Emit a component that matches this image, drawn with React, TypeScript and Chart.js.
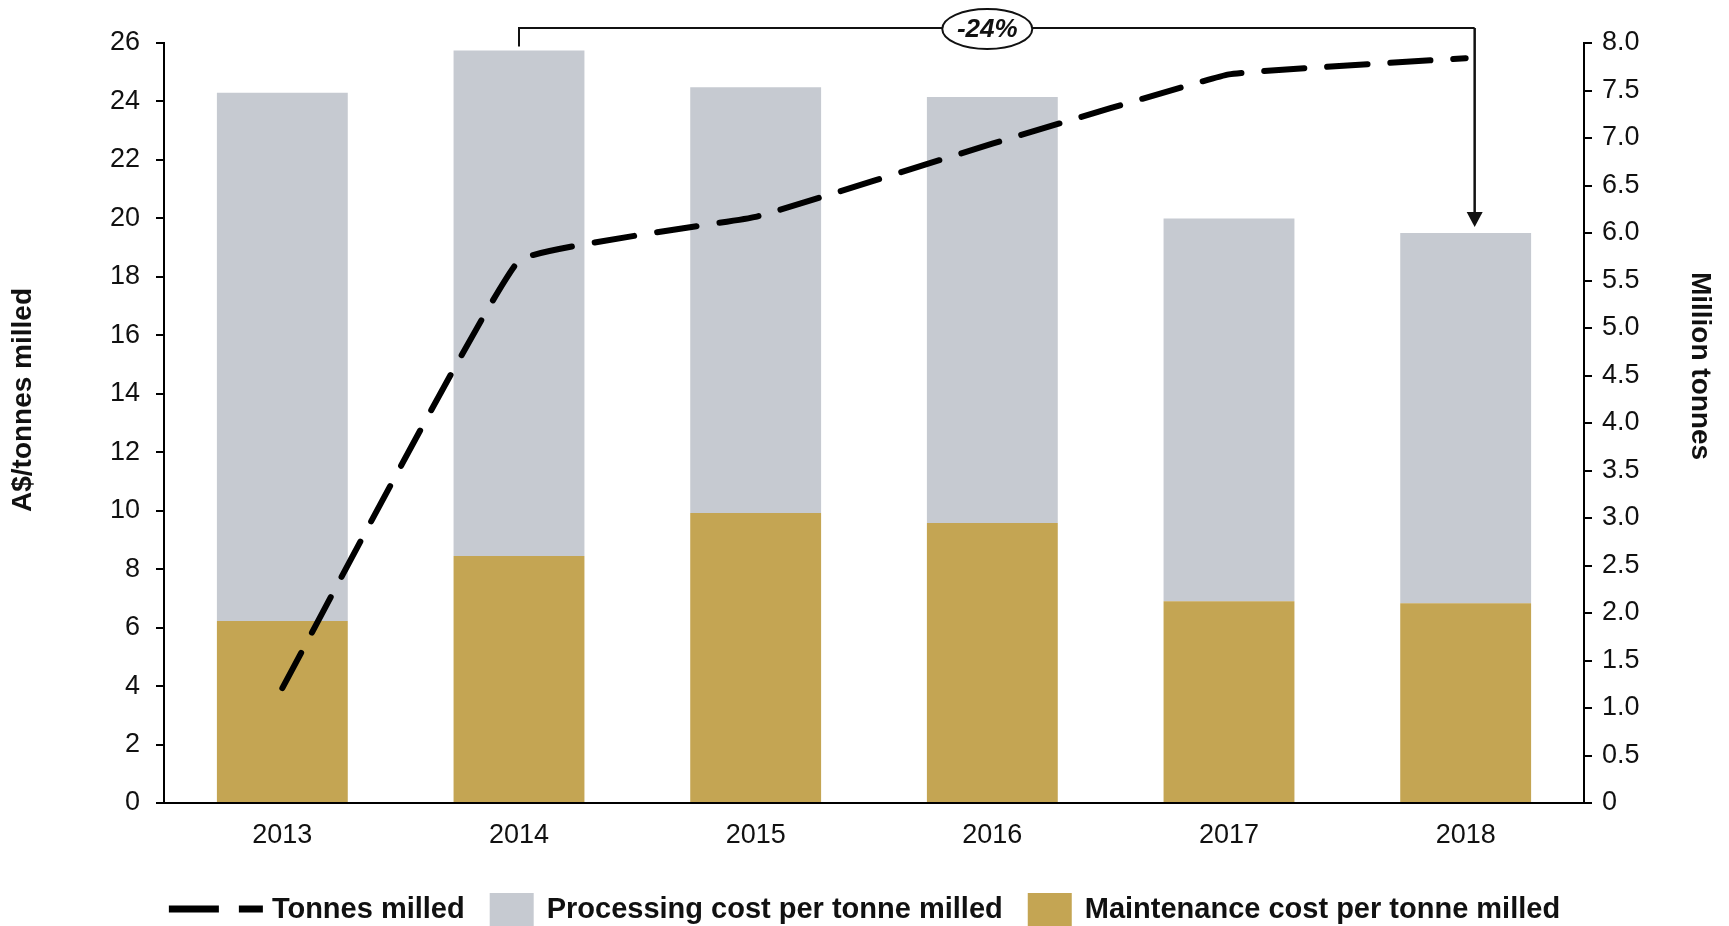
import React, { useEffect, useRef } from "react";
import { Chart, registerables } from "chart.js";

Chart.register(...registerables);

// Years on the category axis
const YEARS = ["2013", "2014", "2015", "2016", "2017", "2018"];
// A$ per tonne milled (stacked bars)
const MAINTENANCE = [6.23, 8.45, 9.92, 9.58, 6.9, 6.83];
const PROCESSING = [18.07, 17.29, 14.57, 14.57, 13.1, 12.67];
// Million tonnes milled (right axis)
const TONNES = [1.21, 5.71, 6.17, 6.94, 7.67, 7.84];
// Change in total unit cost between the bracketed years
const CHANGE_FROM = 1;
const CHANGE_TO = 5;
const CHANGE_LABEL = "-24%";

const LEFT_TITLE = "A$/tonnes milled";
const RIGHT_TITLE = "Million tonnes";

const GREY = "#C6CAD1";
const GOLD = "#C4A553";
const INK = "#111111";
const FONT = "'Liberation Sans', Arial, Helvetica, sans-serif";

const overlayPlugin = {
  id: "overlay",
  afterDraw(chart: any) {
    const ctx = chart.ctx as CanvasRenderingContext2D;
    const xs = chart.scales.x;
    const ys = chart.scales.y;
    const area = chart.chartArea;
    const total = (i: number) => MAINTENANCE[i] + PROCESSING[i];

    // Bracket with arrow showing the change in unit cost
    const x0 = xs.getPixelForValue(CHANGE_FROM);
    const x1 = xs.getPixelForValue(CHANGE_TO) + 9;
    const top0 = ys.getPixelForValue(total(CHANGE_FROM)) - 4;
    const tip = ys.getPixelForValue(total(CHANGE_TO)) - 6;
    const yb = area.top - 15;
    ctx.save();
    ctx.strokeStyle = INK;
    ctx.fillStyle = INK;
    ctx.lineWidth = 2;
    ctx.beginPath();
    ctx.moveTo(x0, top0);
    ctx.lineTo(x0, yb);
    ctx.lineTo(x1, yb);
    ctx.stroke();
    ctx.lineWidth = 2.5;
    ctx.beginPath();
    ctx.moveTo(x1, yb);
    ctx.lineTo(x1, tip - 14);
    ctx.stroke();
    ctx.beginPath();
    ctx.moveTo(x1 - 8, tip - 15);
    ctx.lineTo(x1 + 8, tip - 15);
    ctx.lineTo(x1, tip);
    ctx.closePath();
    ctx.fill();

    const cx = x0 + 0.49 * (x1 - x0);
    const cy = yb + 1;
    ctx.beginPath();
    ctx.ellipse(cx, cy, 45, 20, 0, 0, Math.PI * 2);
    ctx.fillStyle = "#ffffff";
    ctx.fill();
    ctx.lineWidth = 2;
    ctx.stroke();
    ctx.fillStyle = INK;
    ctx.font = `italic bold 26px ${FONT}`;
    ctx.textAlign = "center";
    ctx.textBaseline = "middle";
    ctx.fillText(CHANGE_LABEL, cx, cy + 1);

    // Axis titles
    ctx.font = `bold 28px ${FONT}`;
    ctx.save();
    ctx.translate(23, 400);
    ctx.rotate(-Math.PI / 2);
    ctx.fillText(LEFT_TITLE, 0, 0);
    ctx.restore();
    ctx.save();
    ctx.translate(1700, 366);
    ctx.rotate(Math.PI / 2);
    ctx.fillText(RIGHT_TITLE, 0, 0);
    ctx.restore();

    // Legend
    const ds = chart.data.datasets;
    const lineDs = ds.find((d: any) => d.type === "line");
    const procDs = ds.find((d: any) => d.label === "Processing cost per tonne milled");
    const mainDs = ds.find((d: any) => d.label === "Maintenance cost per tonne milled");
    const items = [
      { kind: "line", label: lineDs.label, color: lineDs.borderColor },
      { kind: "box", label: procDs.label, color: procDs.backgroundColor },
      { kind: "box", label: mainDs.label, color: mainDs.backgroundColor },
    ];
    ctx.font = `bold 29px ${FONT}`;
    ctx.textAlign = "left";
    const sampleW = (k: string) => (k === "line" ? 94 : 44);
    const sampleGap = (k: string) => (k === "line" ? 9 : 13);
    const itemGap = 25;
    let totalW = 0;
    items.forEach((it, i) => {
      totalW += sampleW(it.kind) + sampleGap(it.kind) + ctx.measureText(it.label).width;
      if (i < items.length - 1) totalW += itemGap;
    });
    let lx = (chart.width - totalW) / 2;
    const ly = 909;
    items.forEach((it) => {
      if (it.kind === "line") {
        ctx.save();
        ctx.strokeStyle = it.color;
        ctx.lineWidth = 7;
        ctx.lineCap = "butt";
        ctx.setLineDash([50, 20]);
        ctx.beginPath();
        ctx.moveTo(lx, ly);
        ctx.lineTo(lx + 94, ly);
        ctx.stroke();
        ctx.restore();
      } else {
        ctx.fillStyle = it.color;
        ctx.fillRect(lx, ly - 16, 44, 33);
      }
      lx += sampleW(it.kind) + sampleGap(it.kind);
      ctx.fillStyle = INK;
      ctx.fillText(it.label, lx, ly + 1);
      lx += ctx.measureText(it.label).width + itemGap;
    });
    ctx.restore();
  },
};

export default function App() {
  const canvasRef = useRef<HTMLCanvasElement | null>(null);

  useEffect(() => {
    const canvas = canvasRef.current;
    if (!canvas) return;
    const tickFont = { family: FONT, size: 27 };
    const chart = new Chart(canvas, {
      type: "bar",
      data: {
        labels: YEARS,
        datasets: [
          {
            type: "line",
            label: "Tonnes milled",
            data: TONNES,
            yAxisID: "y1",
            borderColor: "#000000",
            borderWidth: 6,
            borderDash: [40, 23],
            borderCapStyle: "round",
            pointRadius: 0,
            tension: 0.08,
            order: 0,
          } as any,
          {
            type: "bar",
            label: "Maintenance cost per tonne milled",
            data: MAINTENANCE,
            backgroundColor: GOLD,
            yAxisID: "y",
            barPercentage: 0.553,
            categoryPercentage: 1,
            order: 1,
          },
          {
            type: "bar",
            label: "Processing cost per tonne milled",
            data: PROCESSING,
            backgroundColor: GREY,
            yAxisID: "y",
            barPercentage: 0.553,
            categoryPercentage: 1,
            order: 1,
          },
        ],
      },
      options: {
        responsive: false,
        animation: false,
        layout: { padding: { top: 43, left: 0, right: 0, bottom: 0 } },
        plugins: {
          legend: { display: false },
          tooltip: { enabled: false },
        },
        scales: {
          x: {
            stacked: true,
            offset: true,
            grid: { display: false, drawTicks: false },
            border: { display: true, color: "#000", width: 2 },
            ticks: { font: tickFont, color: INK, padding: 16, maxRotation: 0 },
            afterFit: (s: any) => {
              s.height = 123;
            },
          },
          y: {
            stacked: true,
            position: "left",
            min: 0,
            max: 26,
            grid: {
              drawOnChartArea: false,
              drawTicks: true,
              tickLength: 8,
              color: "#000",
              lineWidth: 2,
            },
            border: { display: true, color: "#000", width: 2 },
            ticks: { stepSize: 2, font: tickFont, color: INK, padding: 16 },
            afterFit: (s: any) => {
              s.width = 164;
            },
          },
          y1: {
            position: "right",
            min: 0,
            max: 8,
            grid: {
              drawOnChartArea: false,
              drawTicks: true,
              tickLength: 8,
              color: "#000",
              lineWidth: 2,
            },
            border: { display: true, color: "#000", width: 2 },
            ticks: {
              stepSize: 0.5,
              font: tickFont,
              color: INK,
              padding: 10,
              callback: (v: any) => (Number(v) === 0 ? "0" : Number(v).toFixed(1)),
            },
            afterFit: (s: any) => {
              s.width = 145;
            },
          },
        },
      } as any,
      plugins: [overlayPlugin],
    });
    return () => chart.destroy();
  }, []);

  return (
    <div style={{ position: "fixed", left: 0, top: 0, width: 1729, height: 926, background: "#fff" }}>
      <canvas ref={canvasRef} width={1729} height={926} style={{ display: "block" }} />
    </div>
  );
}
